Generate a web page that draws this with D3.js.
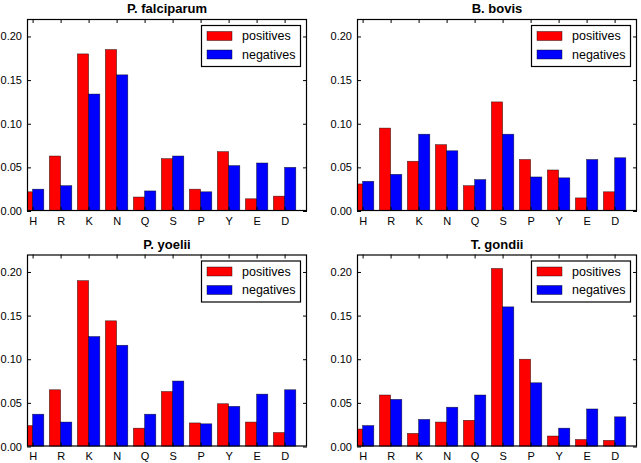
<!DOCTYPE html>
<html><head><meta charset="utf-8">
<script src="https://cdn.jsdelivr.net/npm/d3@7"></script>
<style>body{margin:0;background:#fff}svg{display:block}text{font-family:"Liberation Sans",Arial,sans-serif}</style>
</head><body><svg id="c" width="641" height="463"></svg>
<script>
const categories = ["H","R","K","N","Q","S","P","Y","E","D"];
const titles = ["P. falciparum","B. bovis","P. yoelii","T. gondii"];
const seriesNames = ["positives","negatives"];
const seriesColors = ["#ff0000","#0000ff"];
const yTicks = [0.00,0.05,0.10,0.15,0.20];
const falciparumPos = [0.022,0.063,0.180,0.185,0.016,0.060,0.025,0.068,0.014,0.017];
const falciparumNeg = [0.025,0.029,0.134,0.156,0.023,0.063,0.022,0.052,0.055,0.050];
const bovisPos = [0.031,0.095,0.057,0.076,0.029,0.125,0.059,0.047,0.015,0.022];
const bovisNeg = [0.034,0.042,0.088,0.069,0.036,0.088,0.039,0.038,0.059,0.061];
const yoeliiPos = [0.024,0.065,0.190,0.144,0.021,0.063,0.027,0.049,0.028,0.016];
const yoeliiNeg = [0.037,0.028,0.126,0.116,0.037,0.075,0.026,0.046,0.060,0.065];
const gondiiPos = [0.020,0.059,0.015,0.028,0.030,0.204,0.100,0.012,0.008,0.007];
const gondiiNeg = [0.024,0.054,0.031,0.045,0.059,0.160,0.073,0.021,0.043,0.034];

const panelData = [[falciparumPos,falciparumNeg],[bovisPos,bovisNeg],[yoeliiPos,yoeliiNeg],[gondiiPos,gondiiNeg]];
const boxes = [
  {x:27,y:19,w:280,h:192},
  {x:357,y:19,w:280,h:192},
  {x:27,y:254.5,w:280,h:192},
  {x:357,y:254.5,w:280,h:192}
];
const svg = d3.select("#c");
const barW = 0.4;

panelData.forEach((pd,pi)=>{
  const b = boxes[pi];
  const g = svg.append("g").attr("transform",`translate(${b.x},${b.y})`);
  const x = d3.scaleLinear().domain([-0.2,9.8]).range([0,b.w]);
  const y = d3.scaleLinear().domain([0,0.22]).range([b.h,0]);
  const clipId = "clip"+pi;
  g.append("clipPath").attr("id",clipId).append("rect").attr("width",b.w).attr("height",b.h);
  const bars = g.append("g").attr("clip-path",`url(#${clipId})`);
  pd.forEach((vals,si)=>{
    bars.selectAll(null).data(vals).enter().append("rect")
      .attr("x",(d,i)=>x(i - barW + si*barW))
      .attr("width",x(barW)-x(0))
      .attr("y",d=>y(d))
      .attr("height",d=>y(0)-y(d))
      .attr("fill",seriesColors[si])
      .attr("stroke","#000").attr("stroke-width",0.6).attr("stroke-opacity",0.7);
  });
  // axes
  const xAxis = d3.axisBottom(x).tickValues(d3.range(categories.length)).tickFormat(i=>categories[i]).tickSizeInner(-4).tickSizeOuter(0).tickPadding(6);
  const xTop = d3.axisTop(x).tickValues(d3.range(categories.length)).tickFormat("").tickSizeInner(-4).tickSizeOuter(0);
  const yAxis = d3.axisLeft(y).tickValues(yTicks).tickFormat(d3.format(".2f")).tickSizeInner(-4).tickSizeOuter(0).tickPadding(5);
  const yRight = d3.axisRight(y).tickValues(yTicks).tickFormat("").tickSizeInner(-4).tickSizeOuter(0);
  const gx = g.append("g").attr("transform",`translate(0,${b.h})`).call(xAxis);
  g.append("g").call(xTop);
  const gy = g.append("g").call(yAxis);
  g.append("g").attr("transform",`translate(${b.w},0)`).call(yRight);
  g.selectAll(".domain").remove();
  g.selectAll(".tick line").attr("stroke","#000");
  g.selectAll(".tick text").attr("fill","#000").style("font-size","11px").style("font-family","'Liberation Sans',Arial,sans-serif");
  g.append("rect").attr("x",0.5).attr("y",0.5).attr("width",b.w-1).attr("height",b.h-1)
    .attr("fill","none").attr("stroke","#000").attr("stroke-width",1.2);
  // title
  g.append("text").attr("x",b.w/2).attr("y",-6).attr("text-anchor","middle")
    .style("font-size","13px").style("font-weight","bold").text(titles[pi]);
  // legend
  const lg = g.append("g").attr("transform",`translate(${b.w-106},6)`);
  lg.append("rect").attr("x",0.5).attr("y",0.5).attr("width",99).attr("height",41)
    .attr("fill","#fff").attr("stroke","#000").attr("stroke-width",1.2);
  seriesNames.forEach((nm,si)=>{
    const cy = 11 + si*18.5;
    lg.append("rect").attr("x",6).attr("y",cy-4.5).attr("width",25).attr("height",9)
      .attr("fill",seriesColors[si]).attr("stroke","#000").attr("stroke-width",0.6).attr("stroke-opacity",0.7);
    lg.append("text").attr("x",41).attr("y",cy).attr("dy","0.35em")
      .style("font-size","12.5px").text(nm);
  });
});
</script></body></html>
